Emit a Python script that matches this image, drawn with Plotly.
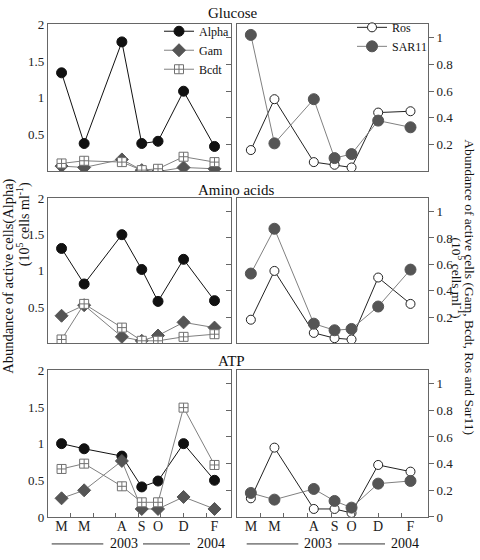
import plotly.graph_objects as go

# ---------------- data ----------------
months = ["M", "M", "A", "S", "O", "D", "F"]
sample_x = [0.6, 1.6, 3.27, 4.15, 4.87, 6.0, 7.37]
month_ticks = [1, 2, 3, 4, 5, 6, 7]
substrates = ["Glucose", "Amino acids", "ATP"]

# Alpha (left axis, 10^5 cells/ml)
alpha_glu = [1.34, 0.38, 1.76, 0.38, 0.41, 1.09, 0.34]
alpha_ami = [1.31, 0.82, 1.50, 1.02, 0.58, 1.16, 0.59]
alpha_atp = [1.00, 0.93, 0.83, 0.41, 0.49, 1.00, 0.50]

# Gam, Bcdt (right axis scale)
gam_glu = [0.04, 0.03, 0.09, 0.01, 0.00, 0.03, 0.02]
gam_ami = [0.21, 0.29, 0.05, 0.02, 0.06, 0.16, 0.12]
gam_atp = [0.14, 0.20, 0.42, 0.06, 0.06, 0.15, 0.06]

bcdt_glu = [0.06, 0.08, 0.07, 0.01, 0.02, 0.11, 0.07]
bcdt_ami = [0.03, 0.30, 0.12, 0.02, 0.02, 0.05, 0.07]
bcdt_atp = [0.36, 0.40, 0.23, 0.11, 0.11, 0.82, 0.39]

# Ros, SAR11 (right panels)
ros_glu = [0.16, 0.54, 0.07, 0.05, 0.03, 0.44, 0.45]
ros_ami = [0.18, 0.55, 0.08, 0.04, 0.03, 0.50, 0.30]
ros_atp = [0.14, 0.52, 0.06, 0.06, 0.03, 0.39, 0.34]

sar_glu = [1.02, 0.21, 0.54, 0.10, 0.13, 0.38, 0.33]
sar_ami = [0.53, 0.87, 0.15, 0.10, 0.11, 0.28, 0.56]
sar_atp = [0.18, 0.13, 0.21, 0.12, 0.07, 0.25, 0.27]

left_ticks = [0, 0.5, 1, 1.5, 2]
left_ticktext = ["0", "0.5", "1", "1.5", "2"]
right_ticks = [0, 0.2, 0.4, 0.6, 0.8, 1.0]
right_ticktext = ["0", "0.2", "0.4", "0.6", "0.8", "1"]
years = ["2003", "2004"]

# ---------------- figure ----------------
FONT = "Liberation Serif, Times New Roman, serif"
W, H = 480, 560
LINE = "#666666"

alpha_rows = [alpha_glu, alpha_ami, alpha_atp]
gam_rows = [gam_glu, gam_ami, gam_atp]
bcdt_rows = [bcdt_glu, bcdt_ami, bcdt_atp]
ros_rows = [ros_glu, ros_ami, ros_atp]
sar_rows = [sar_glu, sar_ami, sar_atp]

xL = [48 / W, 231 / W]
xR = [236.7 / W, 427.7 / W]
row_px = [(17.7, 169), (196.7, 345.7), (373.3, 524)]
row_dom = [[1 - b / H, 1 - t / H] for t, b in row_px]


def xid(n):
    return "x" if n == 1 else f"x{n}"


def yid(n):
    return "y" if n == 1 else f"y{n}"


def xkey(n):
    return "xaxis" if n == 1 else f"xaxis{n}"


def ykey(n):
    return "yaxis" if n == 1 else f"yaxis{n}"


fig = go.Figure()
layout = {}
tickfont = dict(family=FONT, size=13, color="#222")

for i in range(3):
    xl, xr = 2 * i + 1, 2 * i + 2
    yl, yo, yr = 3 * i + 1, 3 * i + 2, 3 * i + 3
    show = i == 0
    bottom = i == 2

    fig.add_trace(go.Scatter(
        x=sample_x, y=alpha_rows[i], xaxis=xid(xl), yaxis=yid(yl),
        name="Alpha", mode="lines+markers", showlegend=show, legend="legend",
        line=dict(color="#111111", width=1),
        marker=dict(symbol="circle", size=10, color="#111111",
                    line=dict(color="#111111", width=1))))
    fig.add_trace(go.Scatter(
        x=sample_x, y=gam_rows[i], xaxis=xid(xl), yaxis=yid(yo),
        name="Gam", mode="lines+markers", showlegend=show, legend="legend",
        line=dict(color="#808080", width=1),
        marker=dict(symbol="diamond", size=10, color="#555555",
                    line=dict(color="#555555", width=1))))
    fig.add_trace(go.Scatter(
        x=sample_x, y=bcdt_rows[i], xaxis=xid(xl), yaxis=yid(yo),
        name="Bcdt", mode="lines+markers", showlegend=show, legend="legend",
        line=dict(color="#808080", width=1),
        marker=dict(symbol="square-cross", size=9, color="white",
                    line=dict(color="#707070", width=1))))
    fig.add_trace(go.Scatter(
        x=sample_x, y=ros_rows[i], xaxis=xid(xr), yaxis=yid(yr),
        name="Ros", mode="lines+markers", showlegend=show, legend="legend2",
        line=dict(color="#222222", width=1),
        marker=dict(symbol="circle", size=9, color="white",
                    line=dict(color="#222222", width=1))))
    fig.add_trace(go.Scatter(
        x=sample_x, y=sar_rows[i], xaxis=xid(xr), yaxis=yid(yr),
        name="SAR11", mode="lines+markers", showlegend=show, legend="legend2",
        line=dict(color="#808080", width=1),
        marker=dict(symbol="circle", size=11, color="#555555",
                    line=dict(color="#555555", width=1))))

    common_x = dict(range=[0, 8.1], showgrid=False, zeroline=False,
                    showline=True, mirror=True, linecolor=LINE, linewidth=1.3,
                    tickvals=sample_x, ticktext=months, ticks="",
                    showticklabels=bottom, ticklabelstandoff=-4,
                    tickfont=dict(family=FONT, size=14, color="#222"))
    if bottom:
        common_x["minor"] = dict(tickvals=month_ticks, ticks="inside",
                                 ticklen=4, tickcolor=LINE, tickwidth=1)
    layout[xkey(xl)] = dict(domain=xL, anchor=yid(yl), **common_x)
    layout[xkey(xr)] = dict(domain=xR, anchor=yid(yr), **common_x)

    lt = left_ticks if bottom else left_ticks[1:]
    ltt = left_ticktext if bottom else left_ticktext[1:]
    rt = right_ticks if bottom else right_ticks[1:]
    rtt = right_ticktext if bottom else right_ticktext[1:]

    layout[ykey(yl)] = dict(domain=row_dom[i], anchor=xid(xl), range=[0, 2.0],
                            showgrid=False, zeroline=False, showline=True,
                            mirror=True, linecolor=LINE, linewidth=1.3,
                            tickvals=lt, ticktext=ltt, ticks="",
                            tickfont=tickfont)
    layout[ykey(yo)] = dict(overlaying=yid(yl), anchor=xid(xl), side="right",
                            range=[0, 1.1], showgrid=False, zeroline=False,
                            showline=False, tickvals=right_ticks[1:],
                            ticks="inside", ticklen=5, tickcolor=LINE,
                            showticklabels=False)
    layout[ykey(yr)] = dict(domain=row_dom[i], anchor=xid(xr), side="right",
                            range=[0, 1.1], showgrid=False, zeroline=False,
                            showline=True, mirror=True, linecolor=LINE,
                            linewidth=1.3, tickvals=rt, ticktext=rtt,
                            ticks="outside", ticklen=5, tickcolor=LINE,
                            tickfont=tickfont)

annotations = []
title_pos = [(232, 6), (236, 188), (231, 364)]
for name, (cx, cy) in zip(substrates, title_pos):
    annotations.append(dict(text=name, x=cx / W, y=1 - cy / H, xref="paper",
                            yref="paper", showarrow=False, xanchor="center",
                            yanchor="middle",
                            font=dict(family=FONT, size=15, color="#111")))

# axis titles
annotations += [
    dict(text="Abundance of active cells(Alpha)", x=9 / W, y=1 - 175 / H,
         xref="paper", yref="paper", showarrow=False, textangle=-90,
         xanchor="center", yanchor="top",
         font=dict(family=FONT, size=14.5, color="#111")),
    dict(text="(10<sup>5</sup> cells ml<sup>-1</sup>)", x=23 / W, y=1 - 178 / H,
         xref="paper", yref="paper", showarrow=False, textangle=-90,
         xanchor="center", yanchor="top",
         font=dict(family=FONT, size=14, color="#111")),
    dict(text="Abundance of active cells (Gam, Bcdt, Ros and Sar11)",
         x=470 / W, y=1 - 288 / H, xref="paper", yref="paper",
         showarrow=False, textangle=90, xanchor="center", yanchor="middle",
         font=dict(family=FONT, size=13.5, color="#111")),
    dict(text="(10<sup>5</sup> cells ml<sup>-1</sup>)", x=457 / W, y=1 - 278 / H,
         xref="paper", yref="paper", showarrow=False, textangle=90,
         xanchor="center", yanchor="middle",
         font=dict(family=FONT, size=13.5, color="#111")),
]

# year labels under bottom panels
shapes = []
year_y = 551.7
for (l1a, l1b, t1, l2a, l2b, t2) in [(51.7, 103.3, 124, 143, 190, 211),
                                      (246.7, 298.3, 317.5, 338, 385, 404.5)]:
    for a, b in [(l1a, l1b), (l2a, l2b)]:
        shapes.append(dict(type="line", xref="paper", yref="paper",
                           x0=a / W, x1=b / W, y0=1 - year_y / H,
                           y1=1 - year_y / H,
                           line=dict(color="#333", width=1)))
    for txt, cx in zip(years, [t1, t2]):
        annotations.append(dict(text=txt, x=cx / W, y=1 - year_y / H,
                                xref="paper", yref="paper", showarrow=False,
                                xanchor="center", yanchor="middle",
                                font=dict(family=FONT, size=14, color="#111")))

layout.update(
    width=W, height=H, margin=dict(l=0, r=0, t=0, b=0),
    paper_bgcolor="white", plot_bgcolor="white",
    annotations=annotations, shapes=shapes,
    legend=dict(x=159 / W, y=1 - 10 / H, xanchor="left", yanchor="top",
                bgcolor="rgba(0,0,0,0)", tracegroupgap=0,
                font=dict(family=FONT, size=12, color="#111")),
    legend2=dict(x=352 / W, y=1 - 6 / H, xanchor="left", yanchor="top",
                 bgcolor="rgba(0,0,0,0)", tracegroupgap=0,
                 font=dict(family=FONT, size=12, color="#111")),
)
fig.update_layout(**layout)
fig.write_html(
    "out.html",
    config={"displayModeBar": False},
    post_script="document.body.style.margin='0';document.body.style.padding='0';",
)
